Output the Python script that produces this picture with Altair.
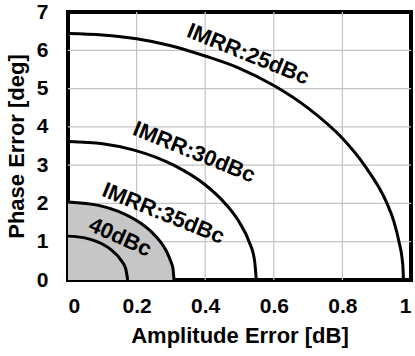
import altair as alt
import pandas as pd

# IMRR contour curves: amplitude error [dB] vs phase error [deg]
amp_25 = [0.0, 0.10, 0.20, 0.30, 0.40, 0.50, 0.60, 0.70, 0.80, 0.864, 0.930, 0.950, 0.965, 0.976, 0.978]
phase_25 = [6.44, 6.40, 6.30, 6.12, 5.85, 5.53, 5.08, 4.49, 3.70, 3.00, 2.00, 1.53, 1.00, 0.40, 0.0]

amp_30 = [0.0, 0.101, 0.190, 0.308, 0.398, 0.458, 0.500, 0.528, 0.544, 0.549]
phase_30 = [3.62, 3.56, 3.40, 3.00, 2.50, 2.00, 1.50, 1.00, 0.50, 0.0]

amp_35 = [0.0, 0.089, 0.145, 0.209, 0.244, 0.269, 0.287, 0.299, 0.306, 0.309]
phase_35 = [2.04, 1.95, 1.80, 1.50, 1.25, 1.00, 0.75, 0.50, 0.30, 0.0]

amp_40 = [0.0, 0.049, 0.085, 0.124, 0.156, 0.168, 0.174]
phase_40 = [1.146, 1.10, 1.00, 0.80, 0.50, 0.30, 0.0]

curve_names = ["25dBc", "30dBc", "35dBc", "40dBc"]

# curve annotations (text, anchor in data units, rotation)
label_text = ["IMRR:25dBc", "IMRR:30dBc", "IMRR:35dBc", "40dBc"]
label_amp = [0.525, 0.368, 0.278, 0.152]
label_phase = [5.90, 3.34, 1.74, 1.12]
label_angle = [22, 22, 22, 24]

x_ticks = [0, 0.2, 0.4, 0.6, 0.8, 1.0]
y_ticks = [0, 1, 2, 3, 4, 5, 6, 7]

rows = []
for name, amps, phases in zip(curve_names,
                              [amp_25, amp_30, amp_35, amp_40],
                              [phase_25, phase_30, phase_35, phase_40]):
    for a, p in zip(amps, phases):
        rows.append({"curve": name, "amp": a, "phase": p})
curves = pd.DataFrame(rows)

labels = pd.DataFrame({"text": label_text, "amp": label_amp,
                       "phase": label_phase, "angle": label_angle})
xgrid = pd.DataFrame({"amp": x_ticks[1:-1]})
ygrid = pd.DataFrame({"phase": y_ticks[1:-1]})

FONT = "Liberation Sans"

xscale = alt.Scale(domain=[0, 1], nice=False, zero=False)
yscale = alt.Scale(domain=[0, 7], nice=False, zero=False)

x_axis = alt.Axis(values=x_ticks, format="~g", title="Amplitude Error [dB]",
                  grid=False, domain=False, ticks=False, tickSize=0,
                  labelOverlap=False, labelPadding=15, titlePadding=9)
y_axis = alt.Axis(values=y_ticks, format="~g", title="Phase Error [deg]",
                  grid=False, domain=False, ticks=False, tickSize=0,
                  labelOverlap=False, labelPadding=20, titlePadding=8)

X = alt.X("amp:Q", scale=xscale, axis=x_axis)
Y = alt.Y("phase:Q", scale=yscale, axis=y_axis)

base = alt.Chart(curves)

shade = base.transform_filter(alt.datum.curve == "35dBc").mark_area(
    color="#c6c6c6", interpolate="monotone"
).encode(x=X, y=Y)

vgrid = alt.Chart(xgrid).mark_rule(color="#c4c4c4", strokeWidth=1.2).encode(x=X)
hgrid = alt.Chart(ygrid).mark_rule(color="#c4c4c4", strokeWidth=1.2).encode(y=Y)

lines = base.mark_line(color="black", strokeWidth=3, interpolate="monotone").encode(
    x=X, y=Y, detail="curve:N", order="amp:Q",
)

texts = alt.Chart(labels).mark_text(
    font=FONT, fontWeight="bold", fontSize=22,
    align="center", baseline="middle", color="black"
).encode(
    x=X, y=Y,
    angle=alt.Angle("angle:Q", scale=None),
    text="text:N",
)

chart = alt.layer(shade, vgrid, hgrid, lines, texts).properties(
    width=343, height=268,
    padding={"left": 68, "top": 12, "right": 4, "bottom": 76},
    autosize=alt.AutoSizeParams(type="none"),
).configure_view(
    stroke="black", strokeWidth=4
).configure_axis(
    labelFont=FONT, labelFontWeight="bold", labelFontSize=21, labelColor="black",
    titleFont=FONT, titleFontWeight="bold", titleFontSize=22, titleColor="black",
    labelOverlap=False,
)

chart.save("out.html", embed_options={"renderer": "svg", "actions": False})
